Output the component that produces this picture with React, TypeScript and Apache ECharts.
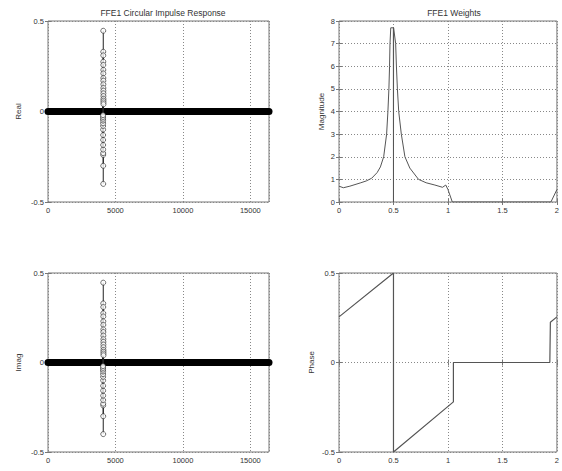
import React, { useEffect, useRef } from "react";
import * as echarts from "echarts";

// ---- Data ----
const stemIdx = [4096, 4095, 4097, 4094, 4098, 4093, 4099, 4092, 4100, 4091, 4101, 4090, 4102, 4089, 4103, 4088, 4104, 4087, 4105, 4086, 4106, 4085, 4107, 4084, 4108, 4109, 4110, 4111, 4112, 4113, 4083, 4082, 4081];
const stemReal = [0.446, -0.4, 0.33, -0.3, 0.31, -0.24, 0.275, -0.23, 0.257, -0.21, 0.23, -0.185, 0.21, -0.157, 0.185, -0.13, 0.17, -0.1, 0.15, -0.08, 0.13, -0.065, 0.115, -0.05, 0.1, 0.085, 0.07, 0.06, 0.05, 0.04, -0.04, -0.03, -0.02];
const stemImag = [0.446, -0.4, 0.33, -0.3, 0.31, -0.24, 0.275, -0.23, 0.257, -0.21, 0.23, -0.185, 0.21, -0.157, 0.185, -0.13, 0.17, -0.1, 0.15, -0.08, 0.13, -0.065, 0.115, -0.05, 0.1, 0.085, 0.07, 0.06, 0.05, 0.04, -0.04, -0.03, -0.02];
const zeroBandX = [0, 16384];
const zeroBandY = [0, 0];

const magX = [0, 0.04, 0.1, 0.2, 0.25, 0.3, 0.35, 0.38, 0.41, 0.437, 0.449, 0.458, 0.464, 0.468, 0.475, 0.499, 0.5, 0.501, 0.52, 0.527, 0.536, 0.548, 0.572, 0.605, 0.65, 0.73, 0.8, 0.88, 0.95, 0.98, 1.0, 1.04, 1.5, 1.945, 2.0];
const magY = [0.7, 0.63, 0.7, 0.85, 0.93, 1.05, 1.3, 1.55, 2.0, 3.0, 4.0, 5.0, 6.0, 7.0, 7.7, 7.7, 0, 7.7, 7.0, 6.0, 5.0, 4.0, 3.0, 2.0, 1.5, 1.0, 0.85, 0.75, 0.65, 0.75, 0.55, 0, 0, 0, 0.55];

const phX = [0, 0.5, 0.5, 1.05, 1.05, 1.935, 1.94, 2];
const phY = [0.255, 0.5, -0.5, -0.22, 0, 0, 0.225, 0.255];

const titles = ["FFE1 Circular Impulse Response", "FFE1 Weights"];
const yNames = ["Real", "Magnitude", "Imag", "Phase"];

const FONT = "Liberation Sans, Arial, sans-serif";

export default function App() {
  const ref = useRef<HTMLDivElement>(null);
  useEffect(() => {
    if (!ref.current) return;
    const chart = echarts.init(ref.current, undefined, { renderer: "svg" });

    const grids = [
      { left: 48, top: 21, width: 221, height: 181 },
      { left: 339, top: 21, width: 220, height: 181 },
      { left: 48, top: 273, width: 221, height: 179 },
      { left: 339, top: 273, width: 220, height: 179 },
    ].map((g) => ({ ...g, show: true, borderColor: "#777", borderWidth: 1, backgroundColor: "#fff" }));

    const xCfg = [
      { min: 0, max: 16384, interval: 5000 },
      { min: 0, max: 2, interval: 0.5 },
      { min: 0, max: 16384, interval: 5000 },
      { min: 0, max: 2, interval: 0.5 },
    ];
    const yCfg = [
      { min: -0.5, max: 0.5, interval: 0.5 },
      { min: 0, max: 8, interval: 1 },
      { min: -0.5, max: 0.5, interval: 0.5 },
      { min: -0.5, max: 0.5, interval: 0.5 },
    ];
    const nameGaps = [26, 14, 26, 24];

    const gridLine = { show: true, lineStyle: { color: "#888", type: [1, 2] as any, width: 1 } };
    const label = { fontSize: 7.5, color: "#333", fontFamily: FONT, margin: 4, formatter: (v: number) => String(v) };

    const xAxis: any[] = [];
    const yAxis: any[] = [];
    for (let i = 0; i < 4; i++) {
      xAxis.push({
        type: "value", gridIndex: i, ...xCfg[i], position: "bottom",
        axisLine: { show: false }, axisTick: { show: true, inside: true, length: 3, lineStyle: { color: "#777" } },
        axisLabel: { ...label, showMaxLabel: i % 2 === 1 }, splitLine: gridLine,
      });
      xAxis.push({
        type: "value", gridIndex: i, ...xCfg[i], position: "top",
        axisLine: { show: false }, axisTick: { show: true, inside: true, length: 3, lineStyle: { color: "#777" } },
        axisLabel: { show: false }, splitLine: { show: false },
      });
      yAxis.push({
        type: "value", gridIndex: i, ...yCfg[i], position: "left",
        name: yNames[i], nameLocation: "middle", nameGap: nameGaps[i],
        nameTextStyle: { fontSize: 8, color: "#333", fontFamily: FONT },
        axisLine: { show: false }, axisTick: { show: true, inside: true, length: 3, lineStyle: { color: "#777" } },
        axisLabel: label, splitLine: gridLine,
      });
      yAxis.push({
        type: "value", gridIndex: i, ...yCfg[i], position: "right",
        axisLine: { show: false }, axisTick: { show: true, inside: true, length: 3, lineStyle: { color: "#777" } },
        axisLabel: { show: false }, splitLine: { show: false },
      });
    }

    const stemSeries = (vals: number[], axisIdx: number) => [
      {
        type: "line", xAxisIndex: axisIdx * 2, yAxisIndex: axisIdx * 2,
        data: zeroBandX.map((x, k) => [x, zeroBandY[k]]),
        showSymbol: false, lineStyle: { color: "#000", width: 7, cap: "round" }, z: 3,
      },
      {
        type: "custom", xAxisIndex: axisIdx * 2, yAxisIndex: axisIdx * 2,
        data: stemIdx.map((x, k) => [x, vals[k]]),
        encode: { x: 0, y: 1 },
        renderItem: (_p: any, api: any) => {
          const x = api.value(0), y = api.value(1);
          const p0 = api.coord([x, 0]);
          const p1 = api.coord([x, y]);
          return { type: "line", shape: { x1: p0[0], y1: p0[1], x2: p1[0], y2: p1[1] }, style: { stroke: "#222", lineWidth: 1 } };
        },
        z: 4,
      },
      {
        type: "scatter", xAxisIndex: axisIdx * 2, yAxisIndex: axisIdx * 2,
        data: stemIdx.map((x, k) => [x, vals[k]]),
        symbol: "circle", symbolSize: 5,
        itemStyle: { color: "#fff", borderColor: "#222", borderWidth: 0.8 }, z: 5,
      },
    ];

    const option: any = {
      animation: false,
      backgroundColor: "#fff",
      title: [
        { text: titles[0], left: 158, top: 3, textAlign: "center", textStyle: { fontSize: 8.5, fontWeight: "normal", color: "#333", fontFamily: FONT } },
        { text: titles[1], left: 449, top: 3, textAlign: "center", textStyle: { fontSize: 8.5, fontWeight: "normal", color: "#333", fontFamily: FONT } },
      ],
      grid: grids,
      xAxis,
      yAxis,
      series: [
        ...stemSeries(stemReal, 0),
        {
          type: "line", xAxisIndex: 2, yAxisIndex: 2,
          data: magX.map((x, k) => [x, magY[k]]),
          showSymbol: false, lineStyle: { color: "#555", width: 1 }, z: 4,
        },
        ...stemSeries(stemImag, 2),
        {
          type: "line", xAxisIndex: 6, yAxisIndex: 6,
          data: phX.map((x, k) => [x, phY[k]]),
          showSymbol: false, lineStyle: { color: "#555", width: 1.2 }, z: 4,
        },
      ],
    };
    chart.setOption(option);
    return () => chart.dispose();
  }, []);
  return <div ref={ref} style={{ position: "fixed", left: 0, top: 0, width: 562, height: 471 }} />;
}
